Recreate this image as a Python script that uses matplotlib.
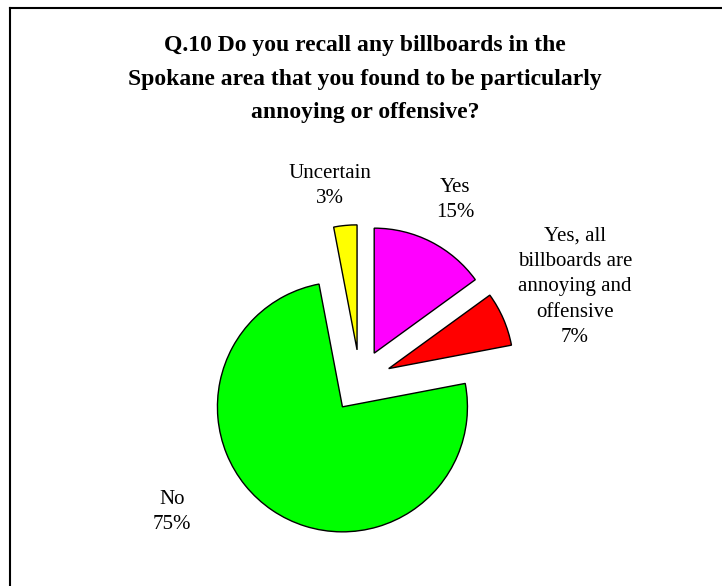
import matplotlib.pyplot as plt
from matplotlib.lines import Line2D

plt.rcParams['font.family'] = ['Liberation Serif', 'DejaVu Serif']

title = "Q.10 Do you recall any billboards in the\nSpokane area that you found to be particularly\nannoying or offensive?"
labels = ["Yes", "Yes, all\nbillboards are\nannoying and\noffensive", "No", "Uncertain"]
values = [15, 7, 75, 3]
colors = ["#FF00FF", "#FF0000", "#00FF00", "#FFFF00"]
# label centres in pixel space (x, y from top)
label_pos = [(455, 200), (575, 287), (172, 512), (330, 186)]

W, H = 722, 586
R = 125
fig = plt.figure(figsize=(W / 100, H / 100), dpi=100)
ax = fig.add_axes([0, 0, 1, 1])

# explode is in data units, so scale by the radius
ax.pie(values, colors=colors, startangle=90, counterclock=False,
       explode=[0.25 * R] * len(values), center=(360, H - 381), radius=R,
       wedgeprops=dict(edgecolor="black", linewidth=1.0), frame=True)
ax.set_xlim(0, W)
ax.set_ylim(0, H)
ax.axis("off")

for lab, v, (x, y) in zip(labels, values, label_pos):
    ax.text(x, H - y, f"{lab}\n{v}%", ha="center", va="center", fontsize=15,
            linespacing=1.45)

ax.text(365, H - 79, title, ha="center", va="center", fontsize=17,
        fontweight="bold", linespacing=1.81)

# chart area frame (only top and left edges visible)
fig.add_artist(Line2D([10 / W, 1], [1 - 8 / H, 1 - 8 / H], color="black", lw=1.5))
fig.add_artist(Line2D([10 / W, 10 / W], [0, 1 - 8 / H], color="black", lw=1.5))

fig.savefig("out.png", dpi=100)
